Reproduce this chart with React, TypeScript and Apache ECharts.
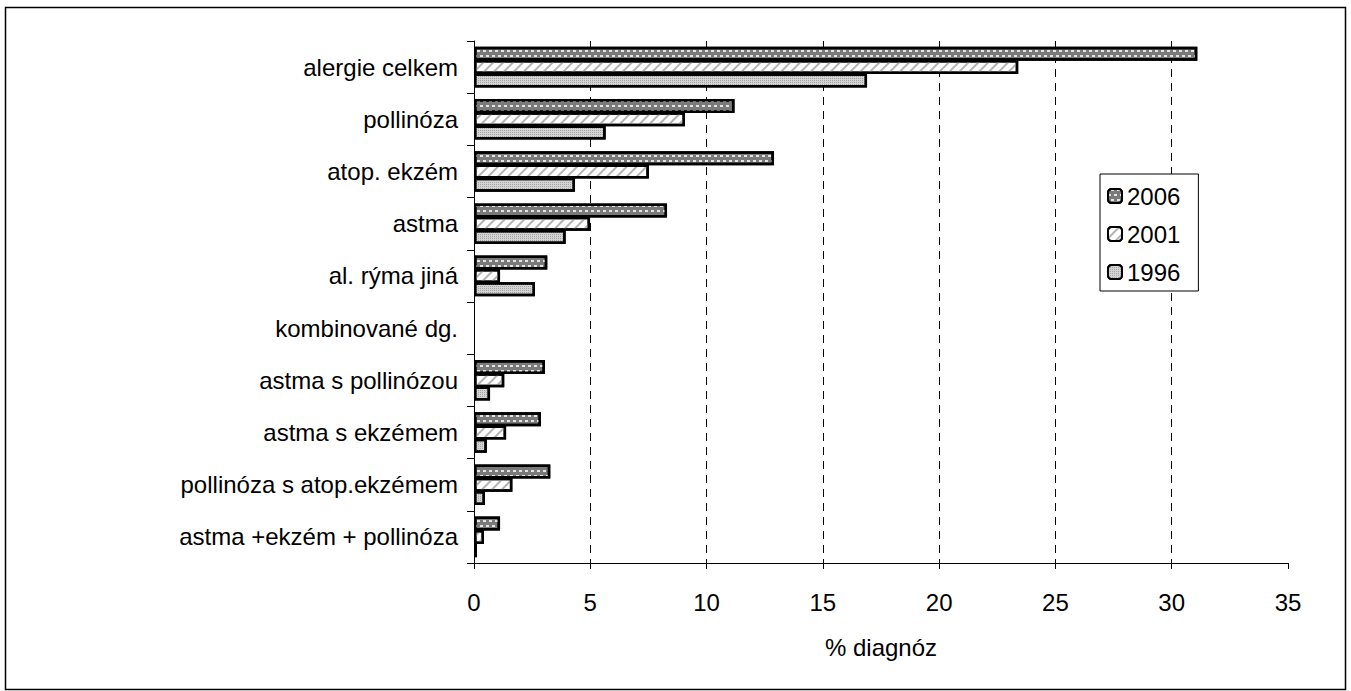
import React, { useEffect, useRef } from "react";
import * as echarts from "echarts";

const categories = [
  "alergie celkem",
  "pollinóza",
  "atop. ekzém",
  "astma",
  "al. rýma jiná",
  "kombinované dg.",
  "astma s pollinózou",
  "astma s ekzémem",
  "pollinóza s atop.ekzémem",
  "astma +ekzém + pollinóza",
];
const seriesNames = ["2006", "2001", "1996"];
const values2006 = [31.1, 11.2, 12.9, 8.3, 3.15, null, 3.05, 2.88, 3.28, 1.12];
const values2001 = [23.4, 9.07, 7.52, 4.99, 1.12, null, 1.3, 1.38, 1.65, 0.43];
const values1996 = [16.9, 5.66, 4.34, 3.94, 2.62, null, 0.69, 0.55, 0.47, 0.13];
const xTicks = { min: 0, max: 35, interval: 5 };
const axisName = "% diagnóz";

const FONT = "'Liberation Sans', Arial, sans-serif";
const FS = 24;

export default function App() {
  const ref = useRef<HTMLDivElement>(null);
  useEffect(() => {
    if (!ref.current) return;
    const chart = echarts.init(ref.current, undefined, { renderer: "svg" });
    const styles = [
      {
        color: "#7a7a7a",
        borderColor: "#000",
        borderWidth: 2.5,
        decal: {
          symbol: "rect",
          color: "rgba(255,255,255,0.8)",
          dashArrayX: [[3, 3], [0, 3, 3, 0]],
          dashArrayY: [2, 3],
          symbolSize: 1,
        },
      },
      {
        color: "#ffffff",
        borderColor: "#000",
        borderWidth: 2.5,
        decal: {
          symbol: "rect",
          color: "#b4b4b4",
          dashArrayX: [1, 0],
          dashArrayY: [1.5, 5],
          rotation: -Math.PI / 4,
          symbolSize: 1,
        },
      },
      {
        color: "#d4d4d4",
        borderColor: "#000",
        borderWidth: 2.5,
        decal: {
          symbol: "rect",
          color: "#a4a4a4",
          dashArrayX: [1, 1],
          dashArrayY: [1, 1],
          symbolSize: 1,
        },
      },
    ];
    const data = [values2006, values2001, values1996];
    const nTicks = (xTicks.max - xTicks.min) / xTicks.interval + 1;
    const splitColors = Array.from({ length: nTicks }, (_, i) =>
      i === 0 || i === nTicks - 1 ? "rgba(0,0,0,0)" : "#000"
    );
    chart.setOption({
      animation: false,
      backgroundColor: "#fff",
      textStyle: { fontFamily: FONT, color: "#000" },
      grid: { left: 474, right: 63, top: 41, bottom: 128, containLabel: false },
      legend: {
        orient: "vertical",
        left: 1100,
        top: 174,
        data: seriesNames,
        backgroundColor: "#fff",
        borderColor: "#000",
        borderWidth: 1,
        padding: [10, 18, 7, 7],
        itemWidth: 14,
        itemHeight: 14,
        itemGap: 14,
        textStyle: { fontSize: FS, lineHeight: 24, color: "#000", fontFamily: FONT },
      },
      xAxis: {
        type: "value",
        min: xTicks.min,
        max: xTicks.max,
        interval: xTicks.interval,
        name: axisName,
        nameLocation: "middle",
        nameGap: 72,
        nameTextStyle: { fontSize: FS, color: "#000", fontFamily: FONT },
        axisLine: { show: true, lineStyle: { color: "#000", width: 1 } },
        axisTick: { show: true, length: 6, lineStyle: { color: "#000" } },
        axisLabel: { fontSize: FS, color: "#000", margin: 27, fontFamily: FONT },
        splitLine: {
          show: true,
          lineStyle: { color: splitColors, type: [8, 6], width: 1 },
        },
      },
      yAxis: {
        type: "category",
        data: categories,
        inverse: true,
        axisLine: { show: true, lineStyle: { color: "#000", width: 1 } },
        axisTick: { show: true, length: 7, lineStyle: { color: "#000" } },
        axisLabel: { fontSize: FS, color: "#000", margin: 16, fontFamily: FONT },
        splitLine: { show: false },
      },
      series: seriesNames.map((name, i) => ({
        name,
        type: "bar",
        data: data[i],
        barWidth: 14,
        barGap: "-5%",
        itemStyle: styles[i],
      })),
      graphic: [
        {
          type: "rect",
          shape: { x: 5.5, y: 7.5, width: 1340, height: 682 },
          style: { fill: "none", stroke: "#000", lineWidth: 1.5 },
          silent: true,
          z: 100,
        },
      ],
    });
    return () => chart.dispose();
  }, []);
  return (
    <div
      ref={ref}
      style={{ position: "absolute", left: 0, top: 0, width: 1351, height: 691 }}
    />
  );
}
